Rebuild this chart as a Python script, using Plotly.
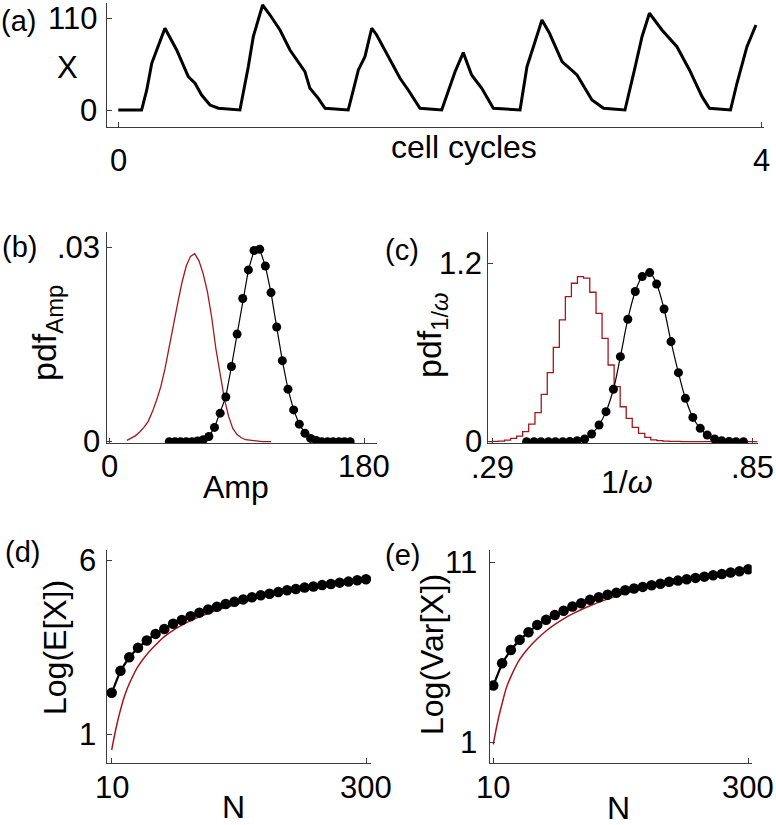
import plotly.graph_objects as go

# ---------------- data ----------------
# (a) trajectory X vs cell cycles
traj_t = [0.0, 0.145, 0.177, 0.208, 0.239, 0.290, 0.363, 0.435, 0.477, 0.518, 0.570, 0.622, 0.756,
          0.808, 0.839, 0.897, 0.943, 1.005, 1.067, 1.119, 1.160, 1.191, 1.243, 1.285, 1.429,
          1.461, 1.492, 1.533, 1.575, 1.606, 1.668, 1.751, 1.802, 1.875, 2.010,
          2.051, 2.093, 2.144, 2.196, 2.259, 2.331, 2.497,
          2.540, 2.587, 2.633, 2.680, 2.758, 2.851, 2.944, 3.016, 3.149,
          3.208, 3.255, 3.301, 3.379, 3.472, 3.550, 3.628, 3.674, 3.805,
          3.845, 3.907, 3.963]
traj_x = [0, 0, 24.2, 56.4, 72.5, 98.8, 72.5, 40.3, 32.3, 18.1, 6.0, 2.1, 0,
          52.3, 88.6, 126.9, 114.8, 96.7, 72.5, 58.4, 46.3, 26.2, 14.1, 2.1, 0,
          24.2, 48.4, 64.4, 98.8, 90.7, 68.5, 38.3, 24.2, 2.1, 0,
          24.2, 46.3, 69.3, 42.3, 26.2, 2.1, 0,
          52.3, 80.6, 108.8, 92.7, 58.4, 42.3, 12.1, 2.1, 0,
          48.4, 88.6, 116.9, 96.7, 76.5, 48.4, 16.1, 2.1, 0,
          32.3, 76.5, 102.7]

# (b) pdf of amplitude
amp_red_x = [12, 15, 18, 21, 24, 27, 30, 33, 36, 39, 42, 45, 48, 51, 54, 57, 60, 63, 66, 69,
             72, 75, 78, 81, 84, 87, 90, 93, 96, 99, 102, 105, 108, 111, 114]
amp_red_y = [0.0002, 0.0005, 0.0009, 0.0015, 0.0022, 0.0031, 0.0046, 0.0064, 0.0085, 0.0113,
             0.0148, 0.0180, 0.0214, 0.0246, 0.0271, 0.0286, 0.0290, 0.0279, 0.0259, 0.0231,
             0.0192, 0.0143, 0.0102, 0.0066, 0.0039, 0.0020, 0.0011, 0.0006, 0.0003, 0.0002,
             0.0001, 0.0001, 0.0, 0.0, 0.0]
amp_dot_x = [42, 46, 50, 54, 58, 62, 66, 70, 74, 78, 82, 86, 90, 94, 98, 102, 106, 110, 114,
             118, 122, 126, 130, 134, 138, 142, 146, 150, 154, 158, 162, 166, 170]
amp_dot_y = [0, 0, 0, 0, 0, 0.0001, 0.0003, 0.0008, 0.0022, 0.0044, 0.0069, 0.0116, 0.0166,
             0.0221, 0.0265, 0.0295, 0.0297, 0.0271, 0.0230, 0.0177, 0.0125, 0.0081, 0.0049,
             0.0027, 0.0013, 0.0005, 0.0002, 0, 0, 0, 0, 0, 0]

# (c) pdf of 1/omega
w_red_x = [0.282, 0.296, 0.309, 0.322, 0.335, 0.348, 0.361, 0.374, 0.388, 0.401, 0.414, 0.427,
           0.440, 0.453, 0.466, 0.479, 0.492, 0.506, 0.519, 0.532, 0.545, 0.558, 0.571, 0.584,
           0.597, 0.611, 0.624, 0.637, 0.650, 0.663, 0.676, 0.689, 0.702, 0.716, 0.729, 0.742,
           0.755, 0.768, 0.781, 0.794, 0.807, 0.821, 0.834, 0.847, 0.860]
w_red_y = [0.001, 0.002, 0.004, 0.010, 0.022, 0.038, 0.068, 0.119, 0.196, 0.320, 0.466, 0.637,
           0.822, 0.980, 1.070, 1.115, 1.104, 1.009, 0.867, 0.698, 0.518, 0.372, 0.236, 0.158,
           0.097, 0.056, 0.029, 0.013, 0.007, 0.004, 0.002, 0.002, 0.001, 0.001, 0.001, 0.001,
           0.0, 0.0, 0.0, 0.0, 0.0, 0.0, 0.0, 0.0, 0.0]
w_dot_x = [0.363, 0.379, 0.394, 0.410, 0.425, 0.441, 0.456, 0.472, 0.488, 0.503, 0.519, 0.534,
           0.550, 0.565, 0.581, 0.597, 0.612, 0.628, 0.643, 0.659, 0.674, 0.690, 0.705, 0.721,
           0.737, 0.752, 0.768, 0.783, 0.799, 0.814, 0.830]
w_dot_y = [0, 0, 0, 0, 0, 0, 0.002, 0.007, 0.018, 0.052, 0.113, 0.203, 0.354, 0.574, 0.827,
           1.014, 1.115, 1.142, 1.065, 0.896, 0.676, 0.466, 0.293, 0.164, 0.090, 0.045, 0.018,
           0.007, 0.002, 0, 0]

# (d) Log(E[X]) vs N
n_dots = [10, 20, 30, 40, 50, 60, 70, 80, 90, 100, 110, 120, 130, 140, 150, 160, 170, 180,
          190, 200, 210, 220, 230, 240, 250, 260, 270, 280, 290, 300]
logE_dots = [2.21, 2.84, 3.23, 3.50, 3.71, 3.90, 4.04, 4.19, 4.30, 4.41, 4.51, 4.60, 4.68, 4.76,
             4.82, 4.89, 4.95, 5.01, 5.05, 5.10, 5.15, 5.19, 5.23, 5.26, 5.30, 5.33, 5.37, 5.40,
             5.44, 5.47]
n_line = [10, 15, 20, 25, 30, 40, 50, 60, 70, 80, 90, 100, 120, 140, 160, 180, 200, 220, 240,
          260, 280, 300]
logE_line = [0.57, 1.20, 1.72, 2.15, 2.47, 2.97, 3.31, 3.58, 3.82, 4.00, 4.15, 4.28, 4.49, 4.66,
             4.81, 4.95, 5.07, 5.18, 5.27, 5.36, 5.42, 5.47]

# (e) Log(Var[X]) vs N
logV_dots = [4.15, 5.39, 6.13, 6.69, 7.11, 7.52, 7.80, 8.07, 8.31, 8.54, 8.72, 8.91, 9.06, 9.19,
             9.31, 9.44, 9.54, 9.63, 9.72, 9.81, 9.91, 9.98, 10.06, 10.13, 10.20, 10.28, 10.35,
             10.43, 10.50, 10.61]
logV_line = [0.89, 2.15, 3.15, 4.05, 4.65, 5.60, 6.24, 6.75, 7.18, 7.55, 7.86, 8.13, 8.58, 8.95,
             9.27, 9.55, 9.80, 10.00, 10.17, 10.31, 10.45, 10.57]

# tick labels
a_xticks, a_xlabels = [0, 4], ["0", "4"]
a_yticks, a_ylabels = [0, 110], ["0", "110"]
b_xticks, b_xlabels = [0, 180], ["0", "180"]
b_yticks, b_ylabels = [0, 0.03], ["0", ".03"]
c_xticks, c_xlabels = [0.29, 0.85], [".29", ".85"]
c_yticks, c_ylabels = [0, 1.2], ["0", "1.2"]
d_xticks, d_xlabels = [10, 300], ["10", "300"]
d_yticks, d_ylabels = [1, 6], ["1", "6"]
e_yticks, e_ylabels = [1, 11], ["1", "11"]

# ---------------- figure ----------------
W, H = 776, 825
RED = "#a3161a"
AXC = "#3c3c3c"
FONT = "Liberation Sans, Arial, sans-serif"
TF = 31   # tick label size
LF = 31   # axis title size


def px(x):
    return x / W


def py(y):
    return 1 - y / H


fig = go.Figure()
fig.add_trace(go.Scatter(x=traj_t, y=traj_x, mode="lines", line=dict(color="black", width=3),
                         xaxis="x", yaxis="y"))
fig.add_trace(go.Scatter(x=amp_red_x, y=amp_red_y, mode="lines",
                         line=dict(color=RED, width=1.3), xaxis="x2", yaxis="y2"))
fig.add_trace(go.Scatter(x=amp_dot_x, y=amp_dot_y, mode="lines+markers",
                         line=dict(color="black", width=1.2), marker=dict(color="black", size=9),
                         xaxis="x2", yaxis="y2"))
fig.add_trace(go.Scatter(x=w_red_x, y=w_red_y, mode="lines",
                         line=dict(color=RED, width=1.3, shape="hvh"), xaxis="x3", yaxis="y3"))
fig.add_trace(go.Scatter(x=w_dot_x, y=w_dot_y, mode="lines+markers",
                         line=dict(color="black", width=1.2, shape="spline"),
                         marker=dict(color="black", size=9), xaxis="x3", yaxis="y3"))
fig.add_trace(go.Scatter(x=n_line, y=logE_line, mode="lines", line=dict(color=RED, width=1.5,
                         shape="spline"), xaxis="x4", yaxis="y4"))
fig.add_trace(go.Scatter(x=n_dots, y=logE_dots, mode="lines+markers",
                         line=dict(color="black", width=2.2), marker=dict(color="black", size=10.5),
                         xaxis="x4", yaxis="y4"))
fig.add_trace(go.Scatter(x=n_line, y=logV_line, mode="lines", line=dict(color=RED, width=1.5,
                         shape="spline"), xaxis="x5", yaxis="y5"))
fig.add_trace(go.Scatter(x=n_dots, y=logV_dots, mode="lines+markers",
                         line=dict(color="black", width=2.2), marker=dict(color="black", size=10.5),
                         xaxis="x5", yaxis="y5"))


def xax(dom, rng, tv, anchor):
    return dict(domain=[px(dom[0]), px(dom[1])], range=rng, anchor=anchor, showgrid=False,
                zeroline=False, showline=True, linecolor=AXC, linewidth=1.3, ticks="inside",
                ticklen=5, tickcolor=AXC, tickwidth=1, tickvals=tv, showticklabels=False,
                fixedrange=True)


def yax(dom, rng, tv, anchor):
    return dict(domain=[py(dom[1]), py(dom[0])], range=rng, anchor=anchor, showgrid=False,
                zeroline=False, showline=True, linecolor=AXC, linewidth=1.3, ticks="inside",
                ticklen=5, tickcolor=AXC, tickwidth=1, tickvals=tv, showticklabels=False,
                fixedrange=True)


layout = dict(
    width=W, height=H, margin=dict(l=0, r=0, t=0, b=0, pad=0), showlegend=False,
    paper_bgcolor="white", plot_bgcolor="white", font=dict(family=FONT, color="black"),
    xaxis=xax([106.7, 763.5], [-0.072, 4.01], a_xticks, "y"),
    yaxis=yax([3, 127.3], [-20.9, 129.3], a_yticks, "x"),
    xaxis2=xax([106.7, 376.7], [-2.3, 188.8], b_xticks, "y2"),
    yaxis2=yax([231.7, 443.3], [-0.00025, 0.0324], b_yticks, "x2"),
    xaxis3=xax([488.3, 758.3], [0.2805, 0.862], c_xticks, "y3"),
    yaxis3=yax([231.7, 443.3], [-0.0108, 1.418], c_yticks, "x3"),
    xaxis4=xax([106.7, 371], [4.3, 305.7], d_xticks, "y4"),
    yaxis4=yax([550, 763.3], [0.188, 6.307], d_yticks, "x4"),
    xaxis5=xax([490, 751.7], [6.25, 303.9], d_xticks, "y5"),
    yaxis5=yax([550, 763.3], [-0.167, 11.68], e_yticks, "x5"),
)
fig.update_layout(**layout)


def ann(text, x, y, size=LF, angle=0, xanchor="center"):
    fig.add_annotation(text=text, x=px(x), y=py(y), xref="paper", yref="paper",
                       showarrow=False, textangle=angle, xanchor=xanchor, yanchor="middle",
                       font=dict(family=FONT, size=size, color="black"))


def xticklabels(axis, vals, labels, ycenter):
    for v, t in zip(vals, labels):
        fig.add_annotation(text=t, x=v, y=py(ycenter), xref=axis, yref="paper",
                           showarrow=False, xanchor="center", yanchor="middle",
                           font=dict(family=FONT, size=TF, color="black"))


def yticklabels(axis, vals, labels, xright):
    for v, t in zip(vals, labels):
        fig.add_annotation(text=t, x=px(xright), y=v, xref="paper", yref=axis,
                           showarrow=False, xanchor="right", yanchor="middle",
                           font=dict(family=FONT, size=TF, color="black"))


xticklabels("x", a_xticks, a_xlabels, 160)
yticklabels("y", a_yticks, a_ylabels, 99)
xticklabels("x2", b_xticks, b_xlabels, 466)
yticklabels("y2", b_yticks, b_ylabels, 102)
xticklabels("x3", c_xticks, c_xlabels, 467)
yticklabels("y3", c_yticks, c_ylabels, 484)
xticklabels("x4", d_xticks, d_xlabels, 787)
yticklabels("y4", d_yticks, d_ylabels, 98)
xticklabels("x5", d_xticks, d_xlabels, 787)
yticklabels("y5", e_yticks, e_ylabels, 479)

# panel letters
ann("(a)", -1, 21, size=29, xanchor="left")
ann("(b)", 0, 247, size=29, xanchor="left")
ann("(c)", 383, 250, size=29, xanchor="left")
ann("(d)", 3, 552, size=29, xanchor="left")
ann("(e)", 383, 555, size=29, xanchor="left")
# axis titles
ann("X", 67, 68)
ann("cell cycles", 464, 147, size=32)
ann("pdf<sub>Amp</sub>", 47, 333, size=34, angle=-90)
ann("Amp", 236, 487, size=32)
ann("pdf<sub>1/<i>ω</i></sub>", 432, 335, size=34, angle=-90)
ann("1/<i>ω</i>", 627, 482, size=32)
ann("Log(E[X])", 55, 648, size=32, angle=-90)
ann("N", 233, 807, size=32)
ann("Log(Var[X])", 432, 655, size=32, angle=-90)
ann("N", 618, 808, size=32)

fig.write_html("out.html", config={"responsive": False, "displayModeBar": False},
               post_script="document.body.style.margin='0px';")
